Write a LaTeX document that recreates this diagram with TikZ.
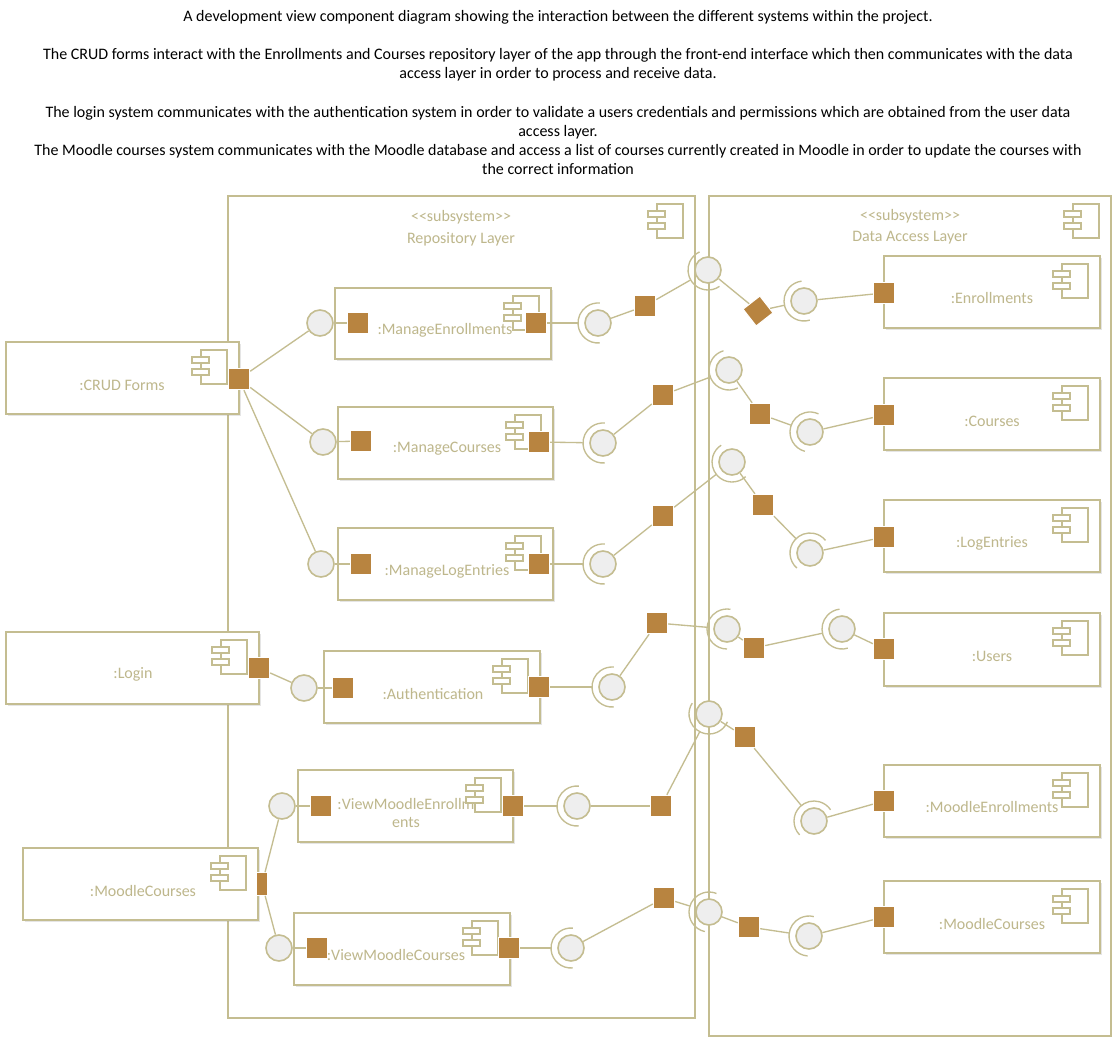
\documentclass[tikz,border=0pt]{standalone}
\usepackage{fontspec}
\setmainfont{Carlito}
\usetikzlibrary{fit,shadows}

\definecolor{linecol}{RGB}{196,189,145}
\definecolor{portcol}{RGB}{184,132,64}
\definecolor{ballcol}{RGB}{238,238,238}
\definecolor{txtcol}{RGB}{190,183,140}

\tikzset{
  sysbox/.style={draw=linecol, line width=1.2pt, fill=white, inner sep=0pt},
  compbox/.style={draw=linecol, line width=1.2pt, fill=white, inner sep=0pt,
    drop shadow={shadow xshift=1.2pt, shadow yshift=-1.2pt, opacity=.25, fill=black!40}},
  lbl/.style={text=txtcol, font=\fontsize{12}{13.5}\selectfont, inner sep=0pt},
  port/.style={rectangle, fill=portcol, draw=white, line width=0.8pt, minimum size=16pt, inner sep=0pt},
  ball/.style={circle, fill=ballcol, draw=linecol, line width=1.2pt, minimum size=19.5pt, inner sep=0pt},
  ring/.style={circle, minimum size=30pt, inner sep=0pt},
  wire/.style={draw=linecol, line width=1pt},
  sockline/.style={draw=linecol, line width=1pt},
  % pics lose the yscale=-1, so y runs upwards in here
  compicon/.pic={
    \draw[linecol, line width=1.1pt, fill=white] (-39,-9) rectangle (-13,-43);
    \draw[linecol, line width=1.1pt, fill=white] (-48,-16) rectangle (-31,-22);
    \draw[linecol, line width=1.1pt, fill=white] (-48,-28) rectangle (-31,-34);
  }
}

% ball with a socket arc turned to #3
\newcommand{\assembly}[3]{%
  \node[ball] (#1) at (#2) {};
  \node[ring] (#1r) at (#2) {};
  \draw[sockline] (#1) ++(#3-95:20) arc[start angle=#3-95, end angle=#3+95, radius=20];
}
\newcommand{\stereo}{\textless\kern0pt\textless subsystem\textgreater\kern0pt\textgreater}

\begin{document}
\begin{tikzpicture}[x=0.75pt,y=0.75pt,yscale=-1,xscale=1]
\useasboundingbox (0,0) rectangle (1117,1045);

% Text Node
\node[anchor=north, align=center, inner sep=0pt, font=\fontsize{12}{14.4}\selectfont] (title) at (558,10)
  {A development view component diagram showing the interaction between the different systems within the project.\\[14.4pt]
   The CRUD forms interact with the Enrollments and Courses repository layer of the app through the front-end interface which then communicates with the data\\
   access layer in order to process and receive data.\\[14.4pt]
   The login system communicates with the authentication system in order to validate a users credentials and permissions which are obtained from the user data\\
   access layer.\\
   The Moodle courses system communicates with the Moodle database and access a list of courses currently created in Moodle in order to update the courses with\\
   the correct information};

% subsystems
\node[sysbox, fit={(228,196) (695,1018)}] (repo) {};
\node[lbl] (repost) at (461,217) {\stereo};
\node[lbl] (repotxt) at (461,239) {Repository Layer};
\pic at (repo.north east) {compicon};

\node[sysbox, fit={(709,196) (1111,1036)}] (dal) {};
\node[lbl] (dalst) at (910,216) {\stereo};
\node[lbl] (daltxt) at (910,238) {Data Access Layer};
\pic at (dal.north east) {compicon};

% outside components
\node[compbox, fit={(6,342) (239,414)}] (crud) {};
\node[lbl] (crudtxt) at (122,385) {:CRUD Forms};
\pic at (crud.north east) {compicon};

\node[compbox, fit={(6,632) (259,704)}] (login) {};
\node[lbl] (logintxt) at (133,674) {:Login};
\pic at (login.north east) {compicon};

\node[compbox, fit={(23,848) (258,920)}] (moodle) {};
\node[lbl] (moodletxt) at (143,891) {:MoodleCourses};
\pic at (moodle.north east) {compicon};

% repository components
\node[compbox, fit={(335,288) (551,359)}] (me) {};
\node[lbl] (metxt) at (445,330) {:ManageEnrollments};
\pic at (me.north east) {compicon};

\node[compbox, fit={(338,407) (553,479)}] (mc) {};
\node[lbl] (mctxt) at (447,449) {:ManageCourses};
\pic at (mc.north east) {compicon};

\node[compbox, fit={(338,528) (553,600)}] (ml) {};
\node[lbl] (mltxt) at (447,571) {:ManageLogEntries};
\pic at (ml.north east) {compicon};

\node[compbox, fit={(324,651) (540,723)}] (au) {};
\node[lbl] (autxt) at (433,694) {:Authentication};
\pic at (au.north east) {compicon};

\node[compbox, fit={(298,770) (513,842)}] (vme) {};
\node[lbl, align=center] (vmetxt) at (406,813) {:ViewMoodleEnrollm\\ents};
\pic at (vme.north east) {compicon};

\node[compbox, fit={(294,913) (510,985)}] (vmc) {};
\node[lbl] (vmctxt) at (396,955) {:ViewMoodleCourses};
\pic at (vmc.north east) {compicon};

% data access components
\node[compbox, fit={(884,256) (1100,328)}] (enr) {};
\node[lbl] (enrtxt) at (992,298) {:Enrollments};
\pic at (enr.north east) {compicon};

\node[compbox, fit={(884,378) (1100,450)}] (crs) {};
\node[lbl] (crstxt) at (992,421) {:Courses};
\pic at (crs.north east) {compicon};

\node[compbox, fit={(884,500) (1100,572)}] (log) {};
\node[lbl] (logtxt) at (992,543) {:LogEntries};
\pic at (log.north east) {compicon};

\node[compbox, fit={(884,613) (1100,686)}] (usr) {};
\node[lbl] (usrtxt) at (992,656) {:Users};
\pic at (usr.north east) {compicon};

\node[compbox, fit={(884,765) (1100,837)}] (mde) {};
\node[lbl] (mdetxt) at (992,807) {:MoodleEnrollments};
\pic at (mde.north east) {compicon};

\node[compbox, fit={(884,881) (1100,953)}] (mdc) {};
\node[lbl] (mdctxt) at (992,924) {:MoodleCourses};
\pic at (mdc.north east) {compicon};

% ports
\node[port] (pcrud) at (239,379) {};
\node[port] (plogin) at (259,668) {};
\node[port, minimum width=8pt, minimum height=17pt] (pmoodle) at (262,884) {};
\node[port] (meL) at (358,323) {};
\node[port] (meR) at (536,323) {};
\node[port] (mcL) at (361,441) {};
\node[port] (mcR) at (539,442) {};
\node[port] (mlL) at (361,564) {};
\node[port] (mlR) at (539,564) {};
\node[port] (auL) at (343,688) {};
\node[port] (auR) at (539,687) {};
\node[port] (vmeL) at (321,806) {};
\node[port] (vmeR) at (513,806) {};
\node[port] (vmcL) at (317,948) {};
\node[port] (vmcR) at (509,948) {};
\node[port] (penr) at (884,293) {};
\node[port] (pcrs) at (884,415) {};
\node[port] (plog) at (884,537) {};
\node[port] (pusr) at (884,649) {};
\node[port] (pmde) at (884,801) {};
\node[port] (pmdc) at (884,917) {};

% delegation ports on the wires
\node[port] (q1) at (645,306) {};
\node[port] (q2) at (663,395) {};
\node[port] (q3) at (663,516) {};
\node[port] (q4) at (657,623) {};
\node[port] (q5) at (661,806) {};
\node[port] (q6) at (664,898) {};
\node[port, rotate=38] (r1) at (758,311) {};
\node[port] (r2) at (760,414) {};
\node[port] (r3) at (763,505) {};
\node[port] (r4) at (754,648) {};
\node[port] (r5) at (745,737) {};
\node[port] (r6) at (749,927) {};

% provided interfaces
\node[ball] (l1) at (320,323) {};
\node[ball] (l2) at (323,442) {};
\node[ball] (l3) at (321,564) {};
\node[ball] (l4) at (304,688) {};
\node[ball] (l5) at (282,806) {};
\node[ball] (l6) at (279,948) {};

% assembly connectors
\assembly{s1}{598,323}{180}
\assembly{s2}{603,443}{180}
\assembly{s3}{603,564}{180}
\assembly{s4}{612,687}{180}
\assembly{s5}{577,806}{180}
\assembly{s6}{571,948}{180}
\assembly{b1}{708,270}{150}
\assembly{b2}{729,370}{159}
\assembly{b3}{732,462}{142}
\assembly{b4}{727,629}{185}
\assembly{b5}{709,714}{118}
\assembly{b6}{709,912}{197}
\assembly{t1}{804,301}{168}
\assembly{t2}{810,432}{200}
\assembly{t3}{810,553}{226}
\assembly{t4}{842,629}{168}
\assembly{t5}{814,821}{231}
\assembly{t6}{809,936}{189}

% wires, left side
\draw[wire] (pcrud) -- (l1);
\draw[wire] (pcrud) -- (l2);
\draw[wire] (pcrud) -- (l3);
\draw[wire] (plogin) -- (l4);
\draw[wire] (pmoodle) -- (l5);
\draw[wire] (pmoodle) -- (l6);
\draw[wire] (l1) -- (meL);
\draw[wire] (l2) -- (mcL);
\draw[wire] (l3) -- (mlL);
\draw[wire] (l4) -- (auL);
\draw[wire] (l5) -- (vmeL);
\draw[wire] (l6) -- (vmcL);

% wires, enrollments
\draw[wire] (meR) -- (s1r);
\draw[wire] (s1) -- (q1);
\draw[wire] (q1) -- (b1r);
\draw[wire] (b1) -- (r1);
\draw[wire] (r1) -- (t1r);
\draw[wire] (t1) -- (penr);
% wires, courses
\draw[wire] (mcR) -- (s2r);
\draw[wire] (s2) -- (q2);
\draw[wire] (q2) -- (b2r);
\draw[wire] (b2) -- (r2);
\draw[wire] (r2) -- (t2r);
\draw[wire] (t2) -- (pcrs);
% wires, log entries
\draw[wire] (mlR) -- (s3r);
\draw[wire] (s3) -- (q3);
\draw[wire] (q3) -- (b3r);
\draw[wire] (b3) -- (r3);
\draw[wire] (r3) -- (t3r);
\draw[wire] (t3) -- (plog);
% wires, users
\draw[wire] (auR) -- (s4r);
\draw[wire] (s4) -- (q4);
\draw[wire] (q4) -- (b4r);
\draw[wire] (b4) -- (r4);
\draw[wire] (r4) -- (t4r);
\draw[wire] (t4) -- (pusr);
% wires, moodle enrollments
\draw[wire] (vmeR) -- (s5r);
\draw[wire] (s5) -- (q5);
\draw[wire] (q5) -- (b5r);
\draw[wire] (b5) -- (r5);
\draw[wire] (r5) -- (t5r);
\draw[wire] (t5) -- (pmde);
% wires, moodle courses
\draw[wire] (vmcR) -- (s6r);
\draw[wire] (s6) -- (q6);
\draw[wire] (q6) -- (b6r);
\draw[wire] (b6) -- (r6);
\draw[wire] (r6) -- (t6r);
\draw[wire] (t6) -- (pmdc);

\end{tikzpicture}
\end{document}
